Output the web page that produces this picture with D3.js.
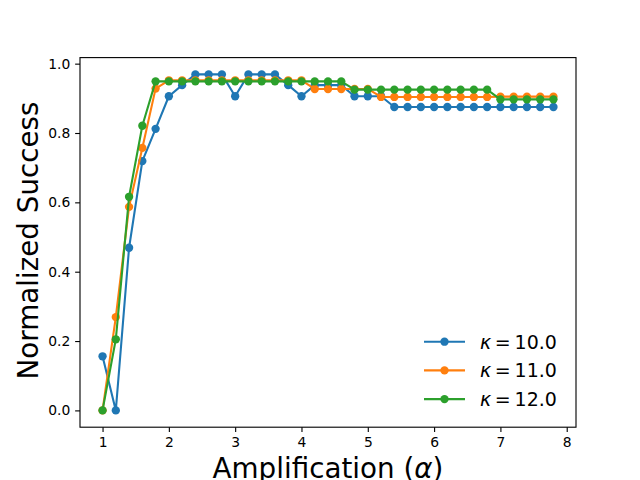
<!DOCTYPE html>
<html lang="en">
<head>
<meta charset="UTF-8" />
<title>Normalized Success</title>
<script src="https://d3js.org/d3.v7.min.js"></script>
<style>
  body { margin: 0; background: #fff; }
  text { font-family: "DejaVu Sans", sans-serif; fill: #000; }
</style>
</head>
<body>
<div id="chart"></div>
<script>
// amplification values (x)
const alphas = [1.0, 1.2, 1.4, 1.6, 1.8, 2.0, 2.2, 2.4, 2.6, 2.8, 3.0, 3.2, 3.4, 3.6, 3.8,
  4.0, 4.2, 4.4, 4.6, 4.8, 5.0, 5.2, 5.4, 5.6, 5.8, 6.0, 6.2, 6.4, 6.6, 6.8, 7.0, 7.2, 7.4, 7.6, 7.8];

const kappa10 = [0.156, 0.0, 0.469, 0.719, 0.812, 0.906, 0.938, 0.969, 0.969, 0.969, 0.906, 0.969, 0.969, 0.969, 0.938,
  0.906, 0.938, 0.938, 0.938, 0.906, 0.906, 0.906, 0.875, 0.875, 0.875, 0.875, 0.875, 0.875, 0.875, 0.875, 0.875, 0.875, 0.875, 0.875, 0.875];
const kappa11 = [0.0, 0.269, 0.587, 0.757, 0.928, 0.952, 0.952, 0.952, 0.952, 0.952, 0.952, 0.952, 0.952, 0.952, 0.952,
  0.952, 0.927, 0.927, 0.927, 0.927, 0.927, 0.904, 0.904, 0.904, 0.904, 0.904, 0.904, 0.904, 0.904, 0.904, 0.905, 0.905, 0.905, 0.905, 0.905];
const kappa12 = [0.0, 0.205, 0.616, 0.821, 0.949, 0.949, 0.949, 0.949, 0.949, 0.949, 0.949, 0.949, 0.949, 0.949, 0.949,
  0.949, 0.949, 0.949, 0.949, 0.925, 0.925, 0.925, 0.925, 0.925, 0.925, 0.925, 0.925, 0.925, 0.925, 0.925, 0.897, 0.897, 0.897, 0.897, 0.897];

const seriesNames = ["10.0", "11.0", "12.0"];
const seriesColors = ["#1f77b4", "#ff7f0e", "#2ca02c"];
const xTicks = [1, 2, 3, 4, 5, 6, 7, 8];
const yTicks = [0.0, 0.2, 0.4, 0.6, 0.8, 1.0];

const W = 640, H = 480;
const plot = { left: 80, right: 576, top: 57.6, bottom: 427.2 };
const pt = 100 / 72;

const svg = d3.select("#chart").append("svg")
  .attr("width", W).attr("height", H);

// matplotlib-style 5% margins
const xMin = d3.min(alphas), xMax = d3.max(alphas);
const xPad = (xMax - xMin) * 0.05;
const allY = kappa10.concat(kappa11, kappa12);
const yMin = d3.min(allY), yMax = d3.max(allY);
const yPad = (yMax - yMin) * 0.05;

const x = d3.scaleLinear().domain([xMin - xPad, xMax + xPad]).range([plot.left, plot.right]);
const y = d3.scaleLinear().domain([yMin - yPad, yMax + yPad]).range([plot.bottom, plot.top]);

const tickLen = 3.5 * pt;

const xAxis = svg.append("g")
  .attr("transform", "translate(0," + plot.bottom + ")")
  .call(d3.axisBottom(x).tickValues(xTicks).tickFormat(d3.format("d"))
    .tickSize(tickLen).tickPadding(3.5 * pt));
const yAxis = svg.append("g")
  .attr("transform", "translate(" + plot.left + ",0)")
  .call(d3.axisLeft(y).tickValues(yTicks).tickFormat(d3.format(".1f"))
    .tickSize(tickLen).tickPadding(3.5 * pt));

[xAxis, yAxis].forEach(g => {
  g.select(".domain").remove();
  g.selectAll(".tick line").attr("stroke", "#000").attr("stroke-width", 0.8 * pt);
  g.selectAll(".tick text").attr("font-size", 10 * pt).attr("font-family", "DejaVu Sans").attr("fill", "#000");
});

// frame
svg.append("rect")
  .attr("x", plot.left).attr("y", plot.top)
  .attr("width", plot.right - plot.left).attr("height", plot.bottom - plot.top)
  .attr("fill", "none").attr("stroke", "#000").attr("stroke-width", 0.8 * pt);

const series = [kappa10, kappa11, kappa12];
const line = d3.line().x((d, i) => x(alphas[i])).y(d => y(d));

series.forEach((vals, k) => {
  const g = svg.append("g");
  g.append("path").datum(vals)
    .attr("d", line)
    .attr("fill", "none")
    .attr("stroke", seriesColors[k])
    .attr("stroke-width", 1.5 * pt)
    .attr("stroke-linejoin", "round");
  g.selectAll("circle").data(vals).join("circle")
    .attr("cx", (d, i) => x(alphas[i]))
    .attr("cy", d => y(d))
    .attr("r", 3 * pt)
    .attr("fill", seriesColors[k]);
});

// axis labels (x label runs off the bottom edge, as in the original)
svg.append("text")
  .attr("x", (plot.left + plot.right) / 2).attr("y", 478)
  .attr("text-anchor", "middle")
  .attr("font-size", 20 * pt)
  .html('Amplification (<tspan font-style="italic">α</tspan>)');

svg.append("text")
  .attr("transform", "translate(37.5,240.5) rotate(-90)")
  .attr("text-anchor", "middle")
  .attr("font-size", 20 * pt)
  .text("Normalized Success");

// legend, no frame; mathtext-like spacing
const legend = svg.append("g");
const legFont = 19;
seriesNames.forEach((name, k) => {
  const ly = 341.7 + k * 28.7;
  legend.append("line")
    .attr("x1", 424).attr("x2", 465).attr("y1", ly).attr("y2", ly)
    .attr("stroke", seriesColors[k]).attr("stroke-width", 1.5 * pt);
  legend.append("circle")
    .attr("cx", 444.5).attr("cy", ly).attr("r", 3 * pt)
    .attr("fill", seriesColors[k]);
  const t = legend.append("text")
    .attr("y", ly + 7)
    .attr("font-size", legFont);
  t.append("tspan").attr("x", 480).attr("font-style", "italic").text("κ");
  t.append("tspan").attr("x", 494.8).text("=");
  t.append("tspan").attr("x", 514.6).text(name);
});
</script>
</body>
</html>
